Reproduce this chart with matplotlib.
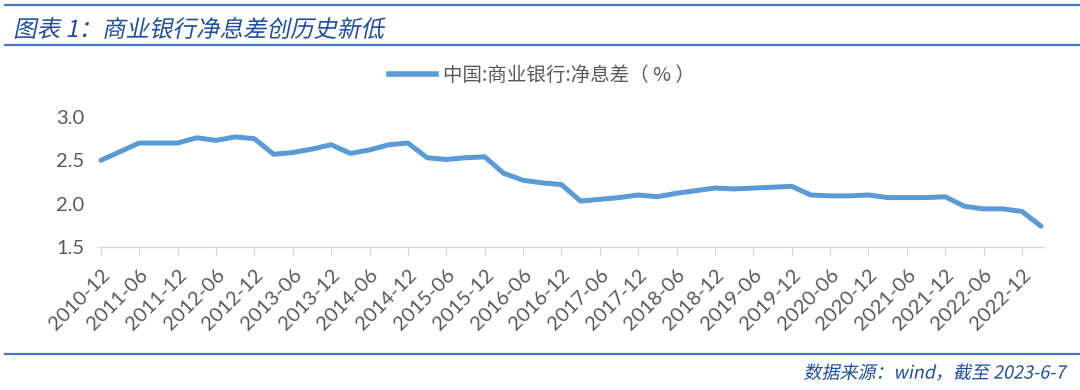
import matplotlib
matplotlib.use("Agg")
import matplotlib.pyplot as plt
from matplotlib.lines import Line2D
from matplotlib.patches import PathPatch
from matplotlib.textpath import TextPath
from matplotlib.font_manager import FontProperties
from matplotlib.transforms import Affine2D

plt.rcParams["font.family"] = ["Noto Sans CJK SC", "DejaVu Sans"]

# quarterly net interest margin of Chinese commercial banks, 2010Q4 .. 2023Q1
quarters = [f"{y}-{m:02d}" for y in range(2010, 2024) for m in (3, 6, 9, 12)][3:53]
nim = [2.50,
       2.60, 2.70, 2.70, 2.70,
       2.76, 2.73, 2.77, 2.75,
       2.57, 2.59, 2.63, 2.68,
       2.58, 2.62, 2.68, 2.70,
       2.53, 2.51, 2.53, 2.54,
       2.35, 2.27, 2.24, 2.22,
       2.03, 2.05, 2.07, 2.10,
       2.08, 2.12, 2.15, 2.18,
       2.17, 2.18, 2.19, 2.20,
       2.10, 2.09, 2.09, 2.10,
       2.07, 2.07, 2.07, 2.08,
       1.97, 1.94, 1.94, 1.91,
       1.74]
yticks = [1.5, 2.0, 2.5, 3.0]
series_name = "中国:商业银行:净息差（ % ）"
title = "图表 1：商业银行净息差创历史新低"
source = "数据来源：wind，截至 2023-6-7"

LINE = "#5B9BD5"
GRAY = "#595959"
NAVY = "#1F4E9A"
RULE = "#4472C4"
W, H = 1080, 390

fig = plt.figure(figsize=(W / 100, H / 100), dpi=100)
ax = fig.add_axes([98 / W, 1 - 247 / H, 946 / W, 130 / H])

x = list(range(len(nim)))
ax.plot(x, nim, color=LINE, lw=3.6, solid_joinstyle="round", solid_capstyle="round")

ax.set_ylim(1.5, 3.0)
ax.set_xlim(-0.15, len(nim) - 1 + 0.15)
ax.set_yticks(yticks)
ax.set_yticklabels([f"{v:.1f}" for v in yticks], fontsize=14.5, color=GRAY,
                   family=["Lato", "DejaVu Sans"])
ax.tick_params(axis="y", length=0, pad=10)

ax.set_xticks(x[::2])
ax.set_xticklabels(quarters[::2], rotation=45, ha="right", rotation_mode="anchor",
                   fontsize=14.5, color=GRAY, family=["Lato", "DejaVu Sans"])
ax.tick_params(axis="x", direction="out", length=6, width=1, color="#D9D9D9", pad=8)

for s in ("top", "right", "left"):
    ax.spines[s].set_visible(False)
ax.spines["bottom"].set_color("#D9D9D9")
ax.spines["bottom"].set_linewidth(1)

handle = Line2D([], [], color=LINE, lw=4)
fig.legend([handle], [series_name], loc="center", bbox_to_anchor=(542 / W, 1 - 75 / H),
           frameon=False, fontsize=14, handlelength=2.4, handletextpad=0.4,
           labelcolor=GRAY)


def slanted(s, x_px, y_px, size_px, color, ha="left"):
    """Oblique text drawn as a sheared path (CJK font has no italic face)."""
    fp = FontProperties(family="Noto Sans CJK SC")
    tp = TextPath((0, 0), s, size=size_px, prop=fp)
    ext = tp.get_extents()
    dx = -ext.x0 if ha == "left" else -ext.x1
    dy = -(ext.y0 + ext.y1) / 2
    tr = (Affine2D().translate(dx, dy).skew_deg(12, 0)
          .translate(x_px, H - y_px).scale(1 / W, 1 / H))
    fig.add_artist(PathPatch(tr.transform_path(tp), transform=fig.transFigure,
                             facecolor=color, edgecolor="none", lw=0))


# header / footer rules and texts
for yy in (5, 45, 354):
    fig.add_artist(Line2D([5 / W, 1], [1 - yy / H] * 2, color=RULE, lw=1.6))
slanted(title, 17, 28, 23.5, NAVY)
slanted(source, 1066, 372, 18, NAVY, ha="right")

fig.savefig("out.png", dpi=100)
